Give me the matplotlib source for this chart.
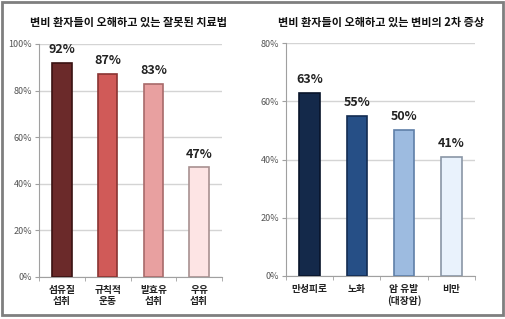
import matplotlib
matplotlib.use('Agg')
from matplotlib import pyplot as plt
from matplotlib.patches import Rectangle
from matplotlib.ticker import PercentFormatter
import numpy as np

plt.rcParams['font.family'] = ['Noto Sans CJK KR', 'DejaVu Sans']

# left chart: misconceptions about treatment
left_title = '변비 환자들이 오해하고 있는 잘못된 치료법'
left_cats = ['섬유질\n섭취', '규칙적\n운동', '발효유\n섭취', '우유\n섭취']
left_vals = [92, 87, 83, 47]
left_colors = ['#6b2a2a', '#d05a58', '#e8a0a0', '#fde4e4']
left_edges = ['#3a1212', '#8a3432', '#a86a6a', '#a89090']

# right chart: secondary symptoms
right_title = '변비 환자들이 오해하고 있는 변비의 2차 증상'
right_cats = ['만성피로', '노화', '암 유발\n(대장암)', '비만']
right_vals = [63, 55, 50, 41]
right_colors = ['#14294a', '#264f86', '#9dbbe0', '#e9f2fc']
right_edges = ['#08142a', '#132c52', '#5f7fa8', '#8a96a6']

fig = plt.figure(figsize=(5.06, 3.19), dpi=100)
fig.patch.set_facecolor('white')
fig.patches.append(Rectangle((0.004, 0.012), 0.99, 0.982, transform=fig.transFigure,
                             fill=False, edgecolor='#7f7f7f', linewidth=2))


def draw_panel(ax, title, cats, vals, colors, edges, ymax, title_x):
    x = np.arange(len(cats))
    ax.bar(x, vals, width=0.43, color=colors, edgecolor=edges, linewidth=1.2, zorder=3)
    ax.set_xlim(-0.5, len(cats) - 0.5)
    ax.set_ylim(0, ymax)
    ax.set_yticks(np.arange(0, ymax + 1, 20))
    ax.yaxis.set_major_formatter(PercentFormatter(decimals=0))
    ax.grid(axis='y', color='#d4d4d4', linewidth=1, zorder=0)
    for s in ['top', 'right']:
        ax.spines[s].set_visible(False)
    for s in ['left', 'bottom']:
        ax.spines[s].set_color('#a0a0a0')
    ax.tick_params(axis='y', colors='#a0a0a0', labelcolor='#555555', labelsize=6.5,
                   length=3, pad=2)
    ax.set_xticks(x)
    ax.set_xticklabels(cats, fontsize=7, fontweight='bold', color='#222222', linespacing=1.05)
    ax.tick_params(axis='x', length=0, pad=6)
    ax.set_xticks(np.arange(-0.5, len(cats)), minor=True)
    ax.tick_params(axis='x', which='minor', length=3, color='#a0a0a0')
    for xi, v in zip(x, vals):
        ax.annotate(f'{v}%', (xi, v), xytext=(0, 5), textcoords='offset points',
                    ha='center', va='bottom', fontsize=9, fontweight='bold', color='#222222')
    fig.text(title_x, 0.93, title, ha='center', va='center', fontsize=8,
             fontweight='bold', color='#111111')


ax1 = fig.add_axes([0.0771, 0.1317, 0.3617, 0.7304])
draw_panel(ax1, left_title, left_cats, left_vals, left_colors, left_edges, 100, 0.253)

ax2 = fig.add_axes([0.5652, 0.1348, 0.3735, 0.7304])
draw_panel(ax2, right_title, right_cats, right_vals, right_colors, right_edges, 80, 0.753)

fig.savefig('out.png', dpi=100)
